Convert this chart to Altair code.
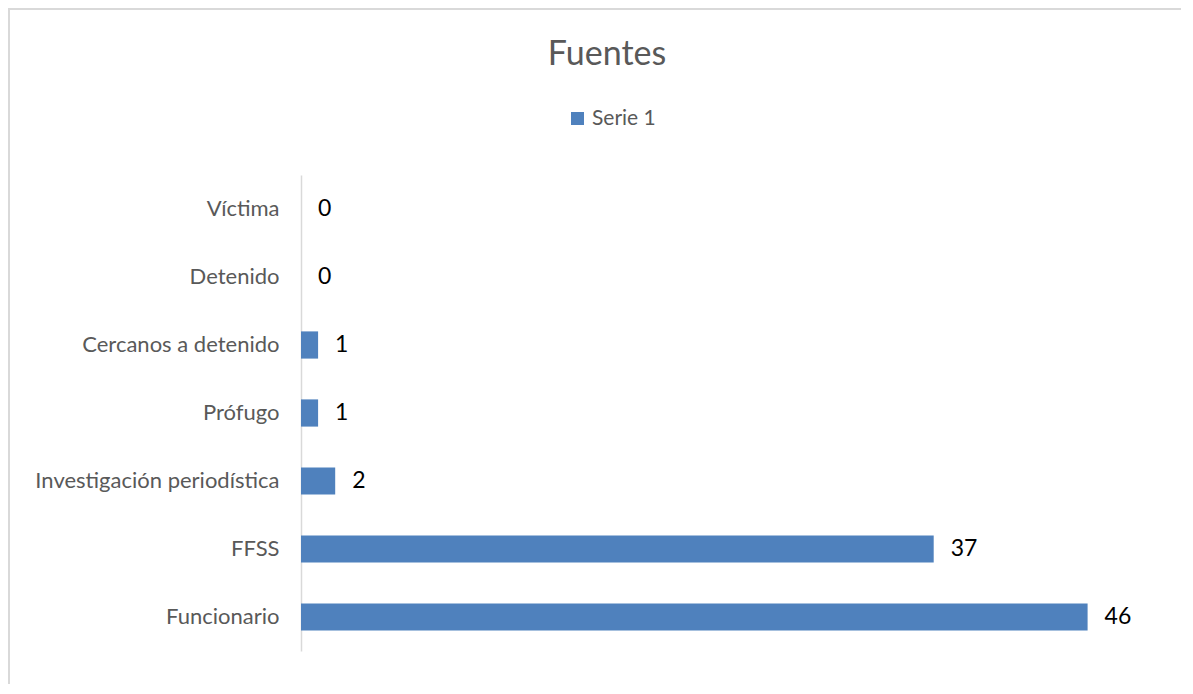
import altair as alt
import pandas as pd

categories = ["Víctima", "Detenido", "Cercanos a detenido", "Prófugo",
              "Investigación periodística", "FFSS", "Funcionario"]
values = [0, 0, 1, 1, 2, 37, 46]
series_name = "Serie 1"

df = pd.DataFrame({"cat": categories, "val": values, "serie": [series_name] * len(categories)})

FONT = "Lato"
BLUE = "#4f81bd"
GREY = "#595959"

y_enc = alt.Y("cat:N", sort=categories, title=None,
              scale=alt.Scale(paddingInner=0.6, paddingOuter=0.3),
              axis=alt.Axis(ticks=False, labelFontSize=22, labelFont=FONT, labelColor=GREY,
                            labelLimit=400, labelPadding=22, domainColor="#d9d9d9",
                            domainWidth=1.5, grid=False))
x_enc = alt.X("val:Q", scale=alt.Scale(domain=[0, 50], nice=False), axis=None)

bars = alt.Chart(df).mark_bar(color=BLUE).encode(
    y=y_enc, x=x_enc,
    color=alt.Color("serie:N", scale=alt.Scale(range=[BLUE]), title=None,
                    legend=alt.Legend(orient="none", legendX=266, legendY=-67,
                                      symbolType="square", symbolSize=169, symbolStrokeWidth=0,
                                      labelFontSize=21, labelFont=FONT, labelColor=GREY,
                                      labelOffset=4, padding=0)),
)

labels = alt.Chart(df).mark_text(align="left", baseline="middle", dx=17,
                                 fontSize=23, font=FONT, color="#000000").encode(
    y=alt.Y("cat:N", sort=categories), x=x_enc, text="val:Q")

border = alt.Chart(pd.DataFrame({"a": [0]})).mark_rect(
    fill="transparent", stroke="#d9d9d9", strokeWidth=2).encode(
    x=alt.value(-292), x2=alt.value(904), y=alt.value(-166), y2=alt.value(600))

chart = alt.layer(border, bars, labels).properties(
    width=855, height=476,
    autosize=alt.AutoSizeParams(type="none"),
    padding={"left": 293, "top": 167, "right": 25, "bottom": 33},
    title=alt.TitleParams("Fuentes", font=FONT, fontSize=34, fontWeight="normal", color=GREY,
                          anchor="middle", frame="bounds", baseline="alphabetic", offset=0, dy=91),
).configure_view(strokeWidth=0)

chart.save("out.html", embed_options={"renderer": "svg", "actions": False})
